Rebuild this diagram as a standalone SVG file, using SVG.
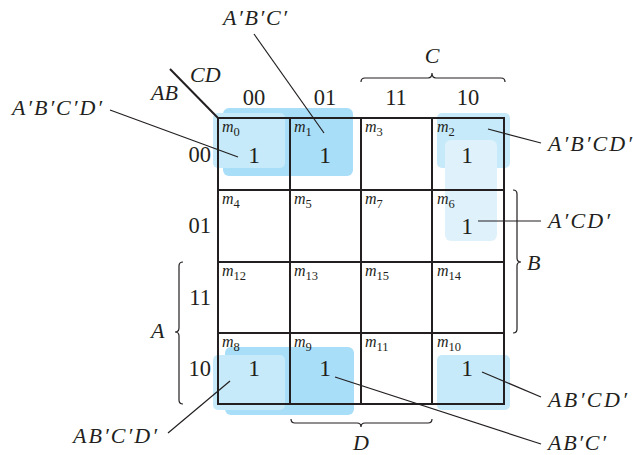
<svg xmlns="http://www.w3.org/2000/svg" width="633" height="455" viewBox="0 0 633 455">
<style>
.it{font-family:"Liberation Serif","Times New Roman",serif;font-style:italic;font-size:22px;fill:#231f20}
.num{font-family:"Liberation Serif","Times New Roman",serif;font-size:22.5px;fill:#231f20}
.one{font-family:"Liberation Serif","Times New Roman",serif;font-size:23.5px;fill:#231f20;text-anchor:middle}
.m{font-family:"Liberation Serif","Times New Roman",serif;font-style:italic;font-size:16px;fill:#231f20}
.sub{font-style:normal;font-size:12.5px}
.grid{stroke:#231f20;stroke-width:2;fill:none}
.lead{stroke:#231f20;stroke-width:1.2;fill:none}
.brace{stroke:#231f20;stroke-width:1.2;fill:none}
.dark{fill:#a9def8}
.mid{fill:#c6eaf9}
.pale{fill:#dff2fb}
</style>
<g id="shading">
<rect class="dark" x="223" y="108" width="130" height="68" rx="6"/>
<rect class="mid" x="213" y="113" width="72" height="55" rx="5"/>
<rect class="mid" x="437" y="113" width="73" height="55" rx="5"/>
<rect class="pale" x="445" y="140" width="52" height="101" rx="6"/>
<rect class="dark" x="225" y="347" width="129" height="68" rx="6"/>
<rect class="mid" x="213" y="355" width="72" height="55" rx="5"/>
<rect class="mid" x="437" y="355" width="73" height="55" rx="5"/>
</g>
<g id="grid">
<rect class="grid" x="218" y="118" width="286" height="286"/>
<path class="grid" d="M290 118V404M361 118V404M432 118V404M218 190H504M218 262H504M218 333H504"/>
<path class="grid" d="M170 69L218 118" stroke-width="2"/>
</g>
<g id="headers">
<text class="it" x="190" y="82">CD</text>
<text class="it" x="151" y="100">AB</text>
<text class="num" x="254" y="105" text-anchor="middle">00</text>
<text class="num" x="325" y="105" text-anchor="middle">01</text>
<text class="num" x="396" y="105" text-anchor="middle">11</text>
<text class="num" x="468" y="105" text-anchor="middle">10</text>
<text class="num" x="211" y="162" text-anchor="end">00</text>
<text class="num" x="211" y="233" text-anchor="end">01</text>
<text class="num" x="211" y="305" text-anchor="end">11</text>
<text class="num" x="211" y="376" text-anchor="end">10</text>
</g>
<g id="braces">
<path class="brace" d="M361 82Q361 78 365 78H428Q432 78 432 73Q432 78 436 78H501Q505 78 505 82"/>
<text class="it" x="432" y="63" text-anchor="middle">C</text>
<path class="brace" d="M513 190Q517 190 517 194V258Q517 262 521 262Q517 262 517 266V329Q517 333 513 333"/>
<text class="it" x="527" y="270">B</text>
<path class="brace" d="M183 262Q179 262 179 266V328Q179 332 175 332Q179 332 179 336V400Q179 404 183 404"/>
<text class="it" x="151" y="338">A</text>
<path class="brace" d="M291 419Q291 423 295 423H357Q361 423 361 427Q361 423 365 423H428Q432 423 432 419"/>
<text class="it" x="361" y="450" text-anchor="middle">D</text>
</g>
<g id="cell-m0"><text class="m" x="222" y="132">m<tspan class="sub" dy="4">0</tspan></text><text class="one" x="254" y="163">1</text></g>
<g id="cell-m1"><text class="m" x="294" y="132">m<tspan class="sub" dy="4">1</tspan></text><text class="one" x="325" y="163">1</text></g>
<g id="cell-m3"><text class="m" x="365" y="132">m<tspan class="sub" dy="4">3</tspan></text></g>
<g id="cell-m2"><text class="m" x="437" y="132">m<tspan class="sub" dy="4">2</tspan></text><text class="one" x="467" y="163">1</text></g>
<g id="cell-m4"><text class="m" x="222" y="204">m<tspan class="sub" dy="4">4</tspan></text></g>
<g id="cell-m5"><text class="m" x="294" y="204">m<tspan class="sub" dy="4">5</tspan></text></g>
<g id="cell-m7"><text class="m" x="365" y="204">m<tspan class="sub" dy="4">7</tspan></text></g>
<g id="cell-m6"><text class="m" x="437" y="204">m<tspan class="sub" dy="4">6</tspan></text><text class="one" x="467" y="234">1</text></g>
<g id="cell-m12"><text class="m" x="222" y="276">m<tspan class="sub" dy="4">12</tspan></text></g>
<g id="cell-m13"><text class="m" x="294" y="276">m<tspan class="sub" dy="4">13</tspan></text></g>
<g id="cell-m15"><text class="m" x="365" y="276">m<tspan class="sub" dy="4">15</tspan></text></g>
<g id="cell-m14"><text class="m" x="437" y="276">m<tspan class="sub" dy="4">14</tspan></text></g>
<g id="cell-m8"><text class="m" x="222" y="347">m<tspan class="sub" dy="4">8</tspan></text><text class="one" x="254" y="376">1</text></g>
<g id="cell-m9"><text class="m" x="294" y="347">m<tspan class="sub" dy="4">9</tspan></text><text class="one" x="325" y="376">1</text></g>
<g id="cell-m11"><text class="m" x="365" y="347">m<tspan class="sub" dy="4">11</tspan></text></g>
<g id="cell-m10"><text class="m" x="437" y="347">m<tspan class="sub" dy="4">10</tspan></text><text class="one" x="467" y="376">1</text></g>
<g id="connectors">
<path class="lead" d="M110 110L238 157"/>
<path class="lead" d="M254 34L324 133"/>
<path class="lead" d="M488 129L541 143"/>
<path class="lead" d="M478 221H541"/>
<path class="lead" d="M482 372L541 397"/>
<path class="lead" d="M335 377L541 444"/>
<path class="lead" d="M230 381L168 433"/>
</g>
<g id="labels">
<text class="it" x="12" y="115" textLength="90" lengthAdjust="spacing">A′B′C′D′</text>
<text class="it" x="223" y="25" textLength="64" lengthAdjust="spacing">A′B′C′</text>
<text class="it" x="548" y="151" textLength="84" lengthAdjust="spacing">A′B′CD′</text>
<text class="it" x="548" y="228" textLength="62" lengthAdjust="spacing">A′CD′</text>
<text class="it" x="548" y="407" textLength="79" lengthAdjust="spacing">AB′CD′</text>
<text class="it" x="548" y="450" textLength="58" lengthAdjust="spacing">AB′C′</text>
<text class="it" x="73" y="443" textLength="84" lengthAdjust="spacing">AB′C′D′</text>
</g>
</svg>
